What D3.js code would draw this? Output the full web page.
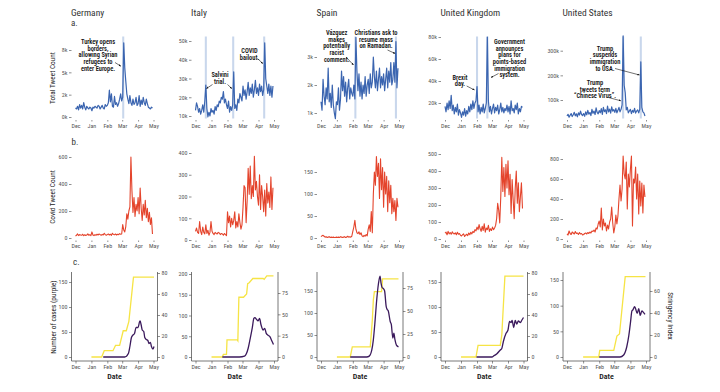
<!DOCTYPE html>
<html><head><meta charset="utf-8">
<script src="https://cdn.jsdelivr.net/npm/d3@7"></script>
<style>
body{margin:0;background:#fff;}
svg{font-family:"Liberation Sans Narrow","Roboto Condensed","Roboto","Liberation Sans",sans-serif;}
</style></head><body>
<svg id="chart" width="720" height="392"></svg>
<script>
// ---------------- DATA ----------------
const countries = ["Germany","Italy","Spain","United Kingdom","United States"];
const monthLabels = ["Dec","Jan","Feb","Mar","Apr","May"];
const monthStarts = ["2019-12-01","2020-01-01","2020-02-01","2020-03-01","2020-04-01","2020-05-01"];
const seriesStart = "2019-12-01", seriesEnd = "2020-05-01"; // one value every second day

// a. total tweet count (thousands)
const tweetsDE = [1.0,0.9,1.2,0.8,1.4,1.0,1.3,0.9,1.6,1.1,0.8,1.2,1.0,0.9,1.1,1.0,
  0.7,1.1,1.0,1.2,1.1,1.0,1.3,1.2,0.9,1.1,1.3,1.0,0.9,1.4,1.2,
  1.3,1.6,3.0,1.7,2.6,1.2,1.1,2.3,1.4,1.6,1.2,1.5,2.0,2.6,1.8,
  2.2,8.3,5.5,4.0,2.6,2.0,1.5,2.4,1.6,1.3,2.0,1.4,1.6,2.2,1.3,
  1.5,2.4,1.2,1.9,1.4,2.2,1.6,1.3,2.0,1.5,1.1,1.0,0.9,1.1,1.0];
const tweetsIT = [13,17,15,12,14,11,13,16,12,18,26.5,14,9.5,12,10,14,
  12,13,11,15,13,16,15,18,17,20,19,23,17,19,16,
  14,18,12,15,13,16,33.5,14,16,13,19,17,22,20,18,
  26,21,24,19,23,28,21,25,22,27,20,24,29,22,25,
  21,27,23,26,21,24,49,30,26,22,27,21,26,20,26];
const tweetsES = [1.4,1.1,2.2,1.6,1.3,1.9,1.5,2.6,1.4,1.7,1.2,2.0,1.3,1.0,0.8,1.4,
  1.3,1.9,1.1,1.5,2.5,1.8,2.3,1.6,2.1,1.4,1.9,2.2,1.5,1.9,1.7,
  1.6,2.0,1.5,3.7,2.5,1.8,2.4,1.6,2.1,1.5,2.0,1.7,2.3,1.6,2.0,
  2.2,1.7,2.4,1.9,2.1,3.0,2.3,1.9,2.5,1.8,2.2,2.6,1.9,2.3,2.0,
  2.4,1.8,2.2,2.6,1.9,2.5,2.1,2.8,2.0,2.2,2.8,2.1,3.55,1.9,2.6];
const tweetsUK = [17,12,20,14,22,15,27,13,18,10,16,12,19,9,14,11,
  7,12,9,15,8,13,10,17,12,19,14,22,15,20,22,
  35,12,18,10,16,12,19,11,15,20,80,22,12,17,10,
  15,19,11,16,13,18,10,14,20,12,16,11,15,13,18,
  12,17,10,22,13,15,11,18,14,20,10,15,12,17,16];
const tweetsUS = [35,42,30,38,45,33,40,50,36,44,32,48,39,55,41,37,
  45,34,52,40,58,43,49,37,62,46,55,41,68,50,44,
  57,48,65,42,70,53,60,45,75,52,63,47,72,55,61,
  50,66,48,58,70,52,62,80,360,160,130,60,70,48,56,
  62,45,58,50,66,47,55,60,48,62,255,70,52,48,35];

// event days (highlighted in panel a)
const eventsDE = ["2020-03-03"];
const eventsIT = ["2019-12-21","2020-02-12","2020-04-12"];
const eventsES = ["2020-02-06","2020-04-25"];
const eventsUK = ["2020-02-01","2020-02-21"];
const eventsUS = ["2020-03-18","2020-04-21"];

// b. covid tweet count
const covidDE = [15,20,30,18,25,22,20,28,17,24,19,22,30,20,25,18,
  45,22,18,25,20,28,22,30,25,20,27,22,35,25,20,
  25,30,22,28,20,35,26,24,30,22,28,25,32,28,30,
  100,60,45,85,180,140,200,230,600,350,190,300,160,250,200,
  300,180,370,220,130,250,170,280,150,220,120,190,100,150,30];
const covidIT = [40,55,35,30,85,40,25,60,35,28,70,30,45,22,35,85,
  40,30,25,35,30,28,35,32,25,30,28,22,30,25,20,
  130,80,110,60,100,70,90,130,55,85,60,120,80,50,70,
  150,250,240,80,180,330,210,340,190,250,200,385,230,270,200,
  160,300,140,250,200,130,230,110,260,170,220,150,290,140,240];
const covidES = [3,5,6,4,2,3,1,2,3,1,2,1,2,1,1,2,
  1,2,1,3,2,1,2,3,1,2,4,2,3,2,4,
  15,25,40,20,12,10,14,8,12,5,3,6,4,8,5,
  20,30,15,60,12,100,150,120,185,140,170,90,180,110,160,
  70,150,100,140,60,130,80,120,55,90,60,85,40,90,70];
const covidUK = [35,40,25,45,30,38,28,42,33,30,36,25,40,28,32,22,
  18,25,30,15,22,28,20,35,25,40,30,45,38,55,48,
  70,55,85,60,45,75,50,90,40,65,55,80,45,60,50,
  70,55,65,80,120,210,170,95,250,480,280,420,250,440,300,
  460,260,380,150,350,230,120,300,400,210,330,160,250,330,180];
const covidUS = [50,40,80,55,45,70,60,50,75,55,60,45,65,50,55,40,
  45,55,60,50,65,55,70,60,80,75,90,70,110,100,150,
  180,120,310,90,200,130,160,80,140,100,170,200,320,160,60,
  120,240,150,230,400,540,380,500,830,650,600,770,300,650,520,
  700,830,130,600,560,720,400,650,250,580,330,560,260,540,420];

// c. number of cases (purple) and stringency index (yellow)
const casesDE = [["2020-01-24",0],["2020-03-06",0],["2020-03-13",7],["2020-03-16",21],["2020-03-19",39],["2020-03-22",44],["2020-03-25",47],["2020-03-28",59],["2020-04-01",59],["2020-04-04",71],["2020-04-05",72],["2020-04-07",64],["2020-04-09",54],["2020-04-12",51],["2020-04-14",39],["2020-04-17",35],["2020-04-20",33],["2020-04-22",27],["2020-04-25",29],["2020-04-27",21],["2020-04-30",16],["2020-05-02",21]];
const stringDE = [["2020-01-01",0],["2020-01-21",0],["2020-01-26",6],["2020-02-12",6],["2020-02-17",11],["2020-02-25",11],["2020-03-03",25],["2020-03-09",25],["2020-03-14",34],["2020-03-23",76],["2020-05-02",76]];
const casesIT = [["2020-01-22",0],["2020-02-24",0],["2020-03-05",2],["2020-03-12",21],["2020-03-16",45],["2020-03-20",71],["2020-03-23",93],["2020-03-25",95],["2020-03-28",91],["2020-03-31",87],["2020-04-03",93],["2020-04-06",77],["2020-04-10",65],["2020-04-13",69],["2020-04-16",57],["2020-04-20",52],["2020-04-23",49],["2020-04-26",41],["2020-04-30",30]];
const stringIT = [["2020-01-01",0],["2020-01-22",0],["2020-01-24",3],["2020-01-30",3],["2020-01-31",20],["2020-02-20",20],["2020-02-21",19],["2020-02-23",70],["2020-03-03",70],["2020-03-09",74],["2020-03-11",86],["2020-03-14",87],["2020-03-21",92],["2020-04-10",92],["2020-04-12",91],["2020-04-17",95],["2020-04-30",95]];
const casesES = [["2020-01-27",0],["2020-02-28",0],["2020-03-04",2],["2020-03-09",16],["2020-03-12",39],["2020-03-15",77],["2020-03-18",122],["2020-03-22",167],["2020-03-25",184],["2020-03-27",168],["2020-03-29",158],["2020-04-01",155],["2020-04-03",150],["2020-04-06",115],["2020-04-08",108],["2020-04-10",105],["2020-04-14",80],["2020-04-16",74],["2020-04-19",43],["2020-04-21",54],["2020-04-23",40],["2020-04-26",27],["2020-04-30",23]];
const stringES = [["2020-01-01",0],["2020-01-27",0],["2020-01-31",11],["2020-03-06",11],["2020-03-10",40],["2020-03-12",62],["2020-03-14",71],["2020-03-28",71],["2020-03-30",85],["2020-04-30",85]];
const casesUK = [["2020-01-31",0],["2020-03-01",0],["2020-03-04",2],["2020-03-10",6],["2020-03-17",14],["2020-03-20",17],["2020-03-23",31],["2020-03-28",47],["2020-04-01",54],["2020-04-04",71],["2020-04-07",69],["2020-04-09",73],["2020-04-12",59],["2020-04-15",73],["2020-04-18",66],["2020-04-21",72],["2020-04-25",69],["2020-04-28",74],["2020-05-01",79]];
const stringUK = [["2020-01-01",0],["2020-01-30",0],["2020-02-03",11],["2020-03-17",11],["2020-03-20",21],["2020-03-26",77],["2020-05-01",77]];
const casesUS = [["2020-02-01",0],["2020-03-12",0],["2020-03-19",4],["2020-03-25",20],["2020-03-29",42],["2020-04-01",66],["2020-04-04",90],["2020-04-06",92],["2020-04-09",98],["2020-04-11",94],["2020-04-14",85],["2020-04-17",94],["2020-04-20",81],["2020-04-23",90],["2020-04-26",87],["2020-04-29",83]];
const stringUS = [["2020-01-01",0],["2020-01-31",0],["2020-02-02",6],["2020-02-29",6],["2020-03-06",19],["2020-03-11",21],["2020-03-22",73],["2020-04-30",73]];

// axis ticks
const ticksA = [[0,2.5,5,7.5],[10,20,30,40,50],[1,2,3],[20,40,60,80],[100,200,300]];
const labelsA = [["0k","2k","5k","8k"],["10k","20k","30k","40k","50k"],["1k","2k","3k"],["20k","40k","60k","80k"],["100k","200k","300k"]];
const ticksB = [[0,200,400,600],[0,100,200,300,400],[0,50,100,150],[0,100,200,300,400,500],[0,200,400,600,800]];
const ticksCL = [[0,50,100,150],[0,50,100,150,200],[0,50,100,150],[0,50,100,150],[0,50,100,150]];
const ticksCR = [[0,20,40,60,80],[0,25,50,75],[0,25,50,75],[0,20,40,60,80],[0,20,40,60]];

// annotations (text lines)
const notes = [
  [{lines:["Turkey opens","borders,","allowing Syrian","refugees to","enter Europe."],cx:98,y:41.7,arrows:[[115,62.5,120.8,66.2]]}],
  [{lines:["Salvini","trial."],cx:220,y:75,arrows:[[212.5,84.5,206.5,88.5],[227.5,84.5,231.8,88.5]]},
   {lines:["COVID","bailout."],cx:249.5,y:50.7,arrows:[[257.5,58.5,262.8,63.5]]}],
  [{lines:["Vázquez","makes","potentially","racist","comment."],cx:336.7,y:32.7,arrows:[[346,57,353.5,65]]},
   {lines:["Christians ask to","resume mass","on Ramadan."],cx:376,y:32.7,arrows:[[387.5,50,395.2,53.5]]}],
  [{lines:["Brexit","day."],cx:460,y:77.3,arrows:[[466.7,86,474.5,90]]},
   {lines:["Government","announces","plans for","points-based","immigration","system."],cx:509.5,y:41.7,arrows:[[498.5,73.5,491,77.5]]}],
  [{lines:["Trump","suspends","immigration","to USA."],cx:605,y:48.3,arrows:[[615,68.5,639.5,75]]},
   {lines:["Trump","tweets term","\u201cChinese Virus\u201d."],cx:595,y:82.7,arrows:[[608.5,97.5,620.8,100.8]]}]
];

// ---------------- LAYOUT ----------------
const colX = [[75.5,153.5],[195.5,274],[321,399],[445,523.5],[567,646]];
const calA = [[[0,117],[7.5,50]],[[10,116],[50,41]],[[1,113],[3,57]],[[20,103],[80,37]],[[100,100],[300,50.7]]];
const calB = [[[0,238],[600,157]],[[0,240],[400,153]],[[0,238],[150,172]],[[0,239],[500,154]],[[0,239],[800,159]]];
const calCL = [[[0,357],[150,282]],[[0,357],[200,274]],[[0,357],[150,291]],[[0,357],[150,282]],[[0,357],[150,280]]];
const calCR = [[[0,357],[80,273]],[[0,357],[75,293]],[[0,357],[75,288]],[[0,357],[80,273]],[[0,357],[60,291]]];

const C = {blue:"#3b65b0", red:"#e4442c", yellow:"#f6e445", purple:"#3b1a5c", band:"#c9d7ec",
  tick:"#555", tickLine:"#444", text:"#333"};

// ---------------- DRAW ----------------
const parse = d3.timeParse("%Y-%m-%d");
const X0 = parse(seriesStart), X1 = parse(seriesEnd);
const stepDates = d3.timeDay.range(X0, X1, 2);
const monthDates = monthStarts.map(parse);
const svg = d3.select("#chart");

const tweetRows = [tweetsDE,tweetsIT,tweetsES,tweetsUK,tweetsUS];
const covidRows = [covidDE,covidIT,covidES,covidUK,covidUS];
const eventRows = [eventsDE,eventsIT,eventsES,eventsUK,eventsUS];
const caseRows = [casesDE,casesIT,casesES,casesUK,casesUS];
const stringRows = [stringDE,stringIT,stringES,stringUK,stringUS];

function lin(cal){ return d3.scaleLinear().domain([cal[0][0],cal[1][0]]).range([cal[0][1],cal[1][1]]); }
function styleAxis(g, fs){
  g.attr("font-size", fs).attr("font-family", null);
  g.selectAll("text").attr("fill", C.tick);
  g.selectAll("line").attr("stroke", C.tickLine).attr("stroke-width", 0.6);
}
function yAxisLeft(xPos, y, ticks, labels){
  const g = svg.append("g").attr("transform",`translate(${xPos},0)`)
    .call(d3.axisLeft(y).tickValues(ticks).tickFormat((d,k)=> labels ? labels[k] : d).tickSize(2.5).tickPadding(1.5));
  g.select(".domain").remove(); styleAxis(g, 6);
}
function xAxis(x, yPos, size, pad){
  const g = svg.append("g").attr("transform",`translate(0,${yPos})`)
    .call(d3.axisBottom(x).tickValues(monthDates).tickFormat((d,k)=>monthLabels[k]).tickSize(size).tickPadding(pad));
  g.select(".domain").remove(); styleAxis(g, 6);
}

// arrow marker
svg.append("defs").append("marker").attr("id","arr").attr("viewBox","0 0 10 10")
  .attr("refX",9).attr("refY",5).attr("markerWidth",4).attr("markerHeight",4).attr("orient","auto")
  .append("path").attr("d","M0,1 L10,5 L0,9 z").attr("fill","#111");

countries.forEach((name,i)=>{
  const [xa,xb] = colX[i];
  const x = d3.scaleTime().domain([X0,X1]).range([xa,xb]);
  const xL = xa-4, xR = xb+4;

  // title
  svg.append("text").attr("x", xL-0.5).attr("y",15.5).attr("font-size",9.5).attr("fill",C.text).text(name);

  // ---- row a ----
  const yA = lin(calA[i]);
  eventRows[i].forEach(ev=>{
    const d = parse(ev);
    const a = x(d3.timeDay.offset(d,-2)), b = x(d3.timeDay.offset(d,2));
    svg.append("rect").attr("x",a).attr("width",b-a).attr("y",36.5).attr("height",82).attr("fill",C.band);
  });
  svg.append("path").datum(tweetRows[i]).attr("fill","none").attr("stroke",C.blue).attr("stroke-width",1.2)
    .attr("stroke-linejoin","round")
    .attr("d", d3.line().x((d,j)=>x(stepDates[j])).y(d=>yA(d)));
  yAxisLeft(xL, yA, ticksA[i], labelsA[i]);
  xAxis(x, 120, 1.5, 2.5);

  // annotations
  notes[i].forEach(n=>{
    const t = svg.append("text").attr("text-anchor","middle").attr("font-size",6.4).attr("font-weight",600).attr("fill","#151515");
    n.lines.forEach((ln,k)=> t.append("tspan").attr("x",n.cx).attr("y", n.y + 2.2 + k*6.7).text(ln));
    n.arrows.forEach(a=> svg.append("line").attr("x1",a[0]).attr("y1",a[1]).attr("x2",a[2]).attr("y2",a[3])
      .attr("stroke","#111").attr("stroke-width",0.6).attr("marker-end","url(#arr)"));
  });

  // ---- row b ----
  const yB = lin(calB[i]);
  svg.append("path").datum(covidRows[i]).attr("fill","none").attr("stroke",C.red).attr("stroke-width",1.1)
    .attr("stroke-linejoin","round")
    .attr("d", d3.line().x((d,j)=>x(stepDates[j])).y(d=>yB(d)));
  yAxisLeft(xL, yB, ticksB[i]);
  xAxis(x, 240.5, 1.5, 2);

  // ---- row c ----
  const yL = lin(calCL[i]), yR = lin(calCR[i]);
  const top = 272, bot = 361;
  svg.append("path").attr("d",`M${xL},${top}V${bot}H${xR}V${top}`).attr("fill","none").attr("stroke","#555").attr("stroke-width",0.8);
  yAxisLeft(xL, yL, ticksCL[i]);
  const gr = svg.append("g").attr("transform",`translate(${xR},0)`)
    .call(d3.axisRight(yR).tickValues(ticksCR[i]).tickSize(2.5).tickPadding(1.5));
  gr.select(".domain").remove(); styleAxis(gr, 6);
  xAxis(x, bot, 2.5, 1);
  svg.append("path").datum(stringRows[i]).attr("fill","none").attr("stroke",C.yellow).attr("stroke-width",1.3)
    .attr("d", d3.line().x(d=>x(parse(d[0]))).y(d=>yR(d[1])));
  svg.append("path").datum(caseRows[i]).attr("fill","none").attr("stroke",C.purple).attr("stroke-width",1.3)
    .attr("stroke-linejoin","round")
    .attr("d", d3.line().curve(d3.curveMonotoneX).x(d=>x(parse(d[0]))).y(d=>yL(d[1])));
  svg.append("text").attr("x",(xL+xR)/2).attr("y",379).attr("text-anchor","middle").attr("font-size",8)
    .attr("font-weight",600).attr("fill","#222").text("Date");
});

// row letters
[["a.",71,25.5],["b.",71.5,145],["c.",73,265]].forEach(([t,xx,yy])=>
  svg.append("text").attr("x",xx).attr("y",yy).attr("font-size",9).attr("fill",C.text).text(t));

// axis titles
function vtitle(t, xx, yy, rot){
  svg.append("text").attr("transform",`translate(${xx},${yy}) rotate(${rot})`).attr("text-anchor","middle")
    .attr("font-size",7.3).attr("fill","#222").text(t);
}
vtitle("Total Tweet Count", 54.5, 78, -90);
vtitle("Covid Tweet Count", 54.5, 197, -90);
vtitle("Number of cases (purple)", 55.5, 317, -90);
vtitle("Stringency Index", 667.5, 316, 90);
</script>
</body></html>
